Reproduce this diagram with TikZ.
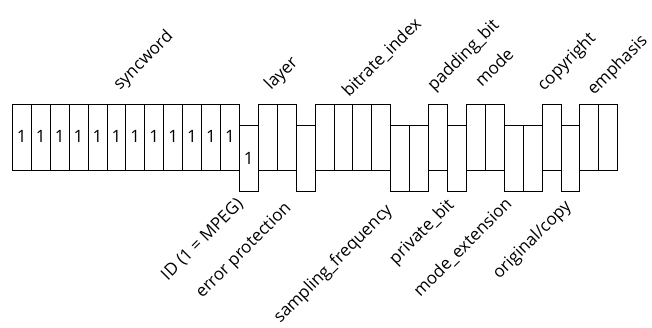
\documentclass[tikz,border=0pt]{standalone}
\usepackage{fontspec}
\setmainfont{Open Sans}
\begin{document}
\begin{tikzpicture}[x=1pt,y=1pt,
  bitcell/.style={draw,line width=0.8pt,minimum width=18.916pt,minimum height=66pt,inner sep=0pt,anchor=north west,font=\fontsize{17}{17}\selectfont},
  uplabel/.style={rotate=45,anchor=base west,inner sep=0pt,font=\fontsize{17}{18}\selectfont},
  lowlabel/.style={rotate=45,anchor=base east,inner sep=0pt,font=\fontsize{17}{18}\selectfont}]
\useasboundingbox (0,0) rectangle (652,-327);
% bit pattern: 0 = upper, 1 = lower
\foreach \i/\lev/\txt in {0/0/1,1/0/1,2/0/1,3/0/1,4/0/1,5/0/1,6/0/1,7/0/1,8/0/1,9/0/1,10/0/1,11/0/1,
  12/1/1,13/0/,14/0/,15/1/,16/0/,17/0/,18/0/,19/0/,20/1/,21/1/,22/0/,23/1/,24/0/,25/0/,26/1/,27/1/,28/0/,29/1/,30/0/,31/0/}{
  \node[bitcell] (b\i) at ({12+\i*18.916},{-(103.5+\lev*21.5)}) {\txt};
}
\node[uplabel] (lsync) at (120,-91) {syncword};
\node[uplabel] (llayer) at (271,-91) {layer};
\node[uplabel] (lbitrate) at (349,-98) {bitrate\_index};
\node[uplabel] (lpad) at (434,-92) {padding\_bit};
\node[uplabel] (lmode) at (482,-88) {mode};
\node[uplabel] (lcopy) at (544,-92) {copyright};
\node[uplabel] (lemph) at (594,-96) {emphasis};
\node[lowlabel] (lid) at (244,-205) {ID (1 = MPEG)};
\node[lowlabel] (lerr) at (292,-209) {error protection};
\node[lowlabel] (lsamp) at (393,-211) {sampling\_frequency};
\node[lowlabel] (lpriv) at (455,-206) {private\_bit};
\node[lowlabel] (lmext) at (513,-205) {mode\_extension};
\node[lowlabel] (lorig) at (572,-207) {original/copy};
\end{tikzpicture}
\end{document}
